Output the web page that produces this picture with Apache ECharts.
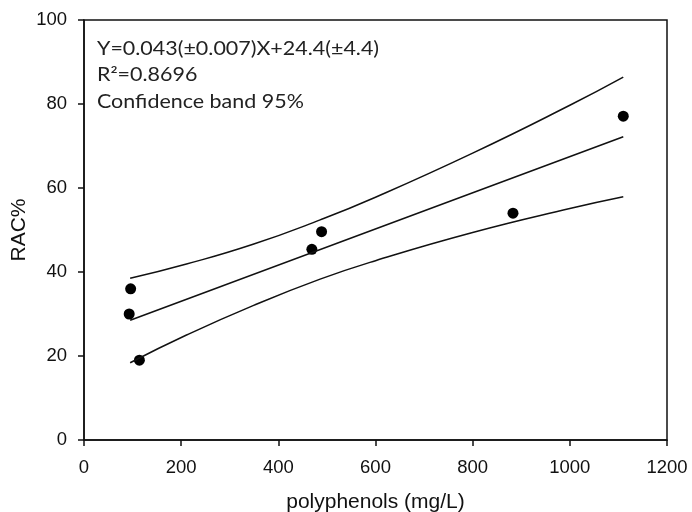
<!DOCTYPE html>
<html>
<head>
<meta charset="utf-8">
<script src="https://cdn.jsdelivr.net/npm/echarts@6/dist/echarts.min.js"></script>
<style>
  html, body { margin: 0; padding: 0; background: #fff; }
  #chart { width: 692px; height: 512px; }
</style>
</head>
<body>
<div id="chart"></div>
<script>
// measured points
const samples = [
  [96, 36.0],
  [93, 30.0],
  [114, 19.0],
  [469, 45.4],
  [489, 49.6],
  [883, 54.0],
  [1110, 77.1]
];
// regression line ends
const fitLine = [[95, 28.5], [1110, 72.2]];
// 95% confidence band
const upperBand = [[95, 38.5], [211, 41.9], [348, 46.6], [486, 52.4], [600, 57.8], [800, 68.3], [1000, 79.7], [1110, 86.4]];
const lowerBand = [[95, 18.4], [211, 25.0], [348, 32.0], [486, 38.3], [600, 42.7], [800, 49.4], [1000, 55.1], [1110, 57.9]];

const notes = ['Y=0.043(±0.007)X+24.4(±4.4)', 'R²=0.8696', 'Confidence band 95%'];
const noteY = [49, 75, 102];

let chart = echarts.init(document.getElementById('chart'), null, {renderer: 'canvas'});

const axisFont = {color: '#111', fontSize: 18.5, fontFamily: 'Liberation Sans, Arial, sans-serif'};

let option = {
  animation: false,
  backgroundColor: '#fff',
  grid: {
    left: 84, right: 25, top: 20, bottom: 72,
    outerBoundsMode: 'none',
    show: true, borderColor: '#111', borderWidth: 1.5
  },
  xAxis: {
    type: 'value', min: 0, max: 1200, interval: 200,
    name: 'polyphenols (mg/L)', nameLocation: 'middle', nameGap: 52,
    nameMoveOverlap: false,
    nameTextStyle: Object.assign({}, axisFont, {fontSize: 21}),
    axisLine: {lineStyle: {color: '#111', width: 1.5}},
    axisTick: {length: 6, lineStyle: {color: '#111', width: 1.5}},
    axisLabel: Object.assign({margin: 18, formatter: v => String(v)}, axisFont),
    splitLine: {show: false}
  },
  yAxis: {
    type: 'value', min: 0, max: 100, interval: 20,
    name: 'RAC%', nameLocation: 'middle', nameGap: 54,
    nameMoveOverlap: false,
    nameTextStyle: Object.assign({}, axisFont, {fontSize: 21}),
    axisLine: {lineStyle: {color: '#111', width: 1.5}},
    axisTick: {length: 6, lineStyle: {color: '#111', width: 1.5}},
    axisLabel: Object.assign({margin: 17}, axisFont),
    splitLine: {show: false}
  },
  graphic: notes.map((t, i) => ({
    type: 'text', x: 97, y: noteY[i], scaleX: 1.16,
    style: {text: t, fill: '#222', fontSize: 18.5, fontFamily: 'Lato, sans-serif', verticalAlign: 'middle'}
  })),
  series: [
    {
      type: 'line', data: upperBand, smooth: true, symbol: 'none',
      lineStyle: {color: '#111', width: 1.5}
    },
    {
      type: 'line', data: fitLine, symbol: 'none',
      lineStyle: {color: '#111', width: 1.5}
    },
    {
      type: 'line', data: lowerBand, smooth: true, symbol: 'none',
      lineStyle: {color: '#111', width: 1.5}
    },
    {
      type: 'scatter', data: samples, symbolSize: 11,
      itemStyle: {color: '#000', opacity: 1}
    }
  ]
};

chart.setOption(option);
</script>
</body>
</html>
